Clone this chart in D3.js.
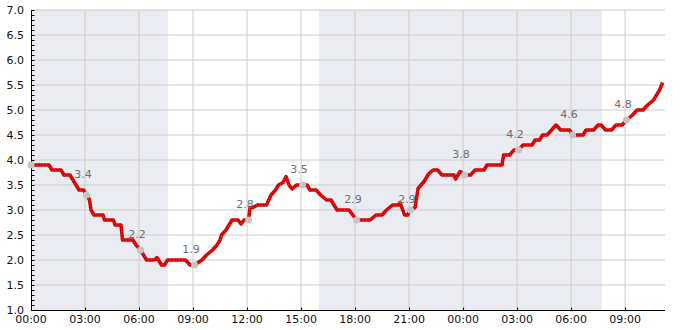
<!DOCTYPE html>
<html>
<head>
<meta charset="utf-8">
<script src="https://cdn.jsdelivr.net/npm/d3@7"></script>
<style>
  body { margin: 0; background: #fff; }
  svg { display: block; font-family: "DejaVu Sans", sans-serif; }
</style>
</head>
<body>
<script>
// readings, day 1 then day 2 (prefix "2 ")
var times = [
  "1 00:00","1 01:00","1 01:10","1 01:40","1 01:50","1 02:10","1 02:30","1 02:40","1 02:55","1 03:05",
  "1 03:15","1 03:20","1 03:30","1 04:00","1 04:05","1 04:35","1 04:40","1 05:00","1 05:05","1 05:40",
  "1 05:50","1 06:05","1 06:15","1 06:25","1 06:50","1 07:00","1 07:15","1 07:25","1 07:35","1 08:35",
  "1 08:50","1 09:05","1 09:30","1 09:45","1 10:05","1 10:20","1 10:30","1 10:35","1 10:50","1 11:10",
  "1 11:30","1 11:40","1 11:50","1 12:05","1 12:10","1 12:20","1 12:35","1 13:05","1 13:20","1 13:35",
  "1 13:45","1 14:00","1 14:10","1 14:20","1 14:30","1 14:45","1 15:20","1 15:30","1 15:50","1 16:05",
  "1 16:25","1 16:40","1 17:00","1 17:40","1 18:05","1 18:50","1 19:10","1 19:30","1 19:45","1 20:05",
  "1 20:25","1 20:30","1 20:45","1 20:55","1 21:05","1 21:20","1 21:30","1 21:50","1 22:05","1 22:20",
  "1 22:35","1 22:50","1 23:30","1 23:35","1 23:50",
  "2 00:05","2 00:25","2 00:40","2 01:10","2 01:20","2 02:10","2 02:15","2 02:35","2 02:50","2 03:05",
  "2 03:20","2 03:50","2 04:00","2 04:15","2 04:25","2 04:40","2 04:55","2 05:10","2 05:25","2 05:55",
  "2 06:05","2 06:40","2 06:50","2 07:15","2 07:30","2 07:40","2 07:55","2 08:15","2 08:30","2 08:50",
  "2 09:05","2 09:25","2 09:40","2 10:00","2 10:15","2 10:35","2 10:45","2 10:55","2 11:05"
]
var values = [
  3.9,3.9,3.8,3.8,3.7,3.7,3.5,3.4,3.4,3.3,
  3.2,3.0,2.9,2.9,2.8,2.8,2.7,2.7,2.4,2.4,
  2.3,2.2,2.1,2.0,2.0,2.05,1.9,1.9,2.0,2.0,
  1.9,1.9,2.0,2.1,2.2,2.3,2.4,2.5,2.6,2.8,
  2.8,2.72,2.8,2.8,3.05,3.05,3.1,3.1,3.3,3.4,
  3.5,3.55,3.67,3.5,3.42,3.5,3.5,3.4,3.4,3.3,
  3.2,3.2,3.0,3.0,2.8,2.8,2.9,2.9,3.0,3.1,
  3.1,3.15,2.9,2.9,3.0,3.05,3.43,3.57,3.72,3.8,
  3.8,3.7,3.7,3.62,3.77,
  3.7,3.7,3.8,3.8,3.9,3.9,4.1,4.1,4.2,4.2,
  4.3,4.3,4.4,4.4,4.5,4.5,4.6,4.7,4.6,4.6,
  4.5,4.5,4.6,4.6,4.7,4.7,4.6,4.6,4.7,4.7,
  4.8,4.9,5.0,5.0,5.1,5.2,5.3,5.4,5.55
]

// grey markers every 3 hours, with their labels
var markTimes = ["1 00:00","1 03:05","1 06:05","1 09:05","1 12:05","1 15:05","1 18:05","1 21:05","2 00:05","2 03:05","2 06:05","2 09:05"]
var markValues = [3.9,3.3,2.2,1.9,2.8,3.5,2.8,3.0,3.7,4.2,4.5,4.8]
var labelTimes = ["1 03:00","1 06:00","1 09:00","1 12:00","1 15:00","1 18:00","1 21:00","2 00:00","2 03:00","2 06:00","2 09:00"]
var labelTexts = ["3.4","2.2","1.9","2.8","3.5","2.9","2.9","3.8","4.2","4.6","4.8"]

// shaded night bands
var bandStarts = ["1 00:00","1 16:00"]
var bandEnds = ["1 07:36","2 07:43"]

var domainStart = "1 00:00", domainEnd = "2 11:13"
var yTicks = [1.0,1.5,2.0,2.5,3.0,3.5,4.0,4.5,5.0,5.5,6.0,6.5,7.0]

var parse = d3.timeParse("%d %H:%M")

var W = 685, H = 330
var margin = {top: 10, right: 20, bottom: 20, left: 31}

var svg = d3.select("body").append("svg")
    .attr("width", W)
    .attr("height", H)

var x = d3.scaleTime()
    .domain([parse(domainStart), parse(domainEnd)])
    .range([margin.left, W - margin.right])
var y = d3.scaleLinear()
    .domain([1, 7])
    .range([H - margin.bottom, margin.top])

// bands
svg.append("g").selectAll("rect")
  .data(bandStarts)
  .enter().append("rect")
    .attr("x", (d) => x(parse(d)))
    .attr("y", y(7))
    .attr("width", (d, i) => x(parse(bandEnds[i])) - x(parse(d)))
    .attr("height", y(1) - y(7))
    .style("fill", "#ebecf1")

// grid
var xTicks = x.ticks(d3.timeHour.every(3))
svg.append("g").selectAll("line")
  .data(xTicks.filter((d, i) => i > 0))
  .enter().append("line")
    .attr("x1", (d) => x(d)).attr("x2", (d) => x(d))
    .attr("y1", y(7)).attr("y2", y(1))
    .style("stroke", "#cccccc")
svg.append("g").selectAll("line")
  .data(yTicks.filter((d) => d > 1))
  .enter().append("line")
    .attr("x1", x.range()[0]).attr("x2", x.range()[1])
    .attr("y1", (d) => y(d)).attr("y2", (d) => y(d))
    .style("stroke", "#cccccc")

// y axis with minor ticks
var yAxis = svg.append("g")
    .attr("transform", "translate(" + margin.left + ",0)")
    .call(d3.axisRight(y).ticks(60).tickSize(3).tickFormat(""))
yAxis.select(".domain").attr("d", "M0.5," + y(7) + "V" + y(1))
yAxis.selectAll("line").attr("transform", "translate(0.5,0)")
svg.append("g").selectAll("text")
  .data(yTicks)
  .enter().append("text")
    .attr("x", 24)
    .attr("y", (d) => y(d))
    .attr("dy", "0.35em")
    .attr("text-anchor", "end")
    .attr("font-size", "11px")
    .attr("fill", "#111")
    .text((d) => d.toFixed(1))

// x axis
var xAxis = svg.append("g")
    .attr("transform", "translate(0," + y(1) + ")")
    .call(d3.axisTop(x).ticks(d3.timeHour.every(3)).tickSize(3).tickFormat(""))
xAxis.select(".domain").attr("d", "M" + x.range()[0] + ",0.5H" + x.range()[1])
xAxis.selectAll("line").attr("transform", "translate(0,0.5)")
svg.append("g").selectAll("text")
  .data(xTicks)
  .enter().append("text")
    .attr("x", (d) => x(d))
    .attr("y", y(1) + 13)
    .attr("text-anchor", "middle")
    .attr("font-size", "11px")
    .attr("fill", "#111")
    .text(d3.timeFormat("%H:%M"))

// the line
var pts = times.map((t, i) => [parse(t), values[i]])
var line = d3.line().x((d) => x(d[0])).y((d) => y(d[1]))
svg.append("path")
    .datum(pts)
    .attr("d", line)
    .style("fill", "none")
    .style("stroke", "#d40000")
    .style("stroke-width", 3.5)
    .style("stroke-linejoin", "round")
svg.append("path")
    .datum(pts)
    .attr("d", line)
    .style("fill", "none")
    .style("stroke", "#ee4a4a")
    .style("stroke-width", 1)
    .style("stroke-dasharray", "1,2")

// grey markers
svg.append("g").selectAll("circle")
  .data(markTimes)
  .enter().append("circle")
    .attr("cx", (d) => x(parse(d)))
    .attr("cy", (d, i) => y(markValues[i]))
    .attr("r", 3.5)
    .style("fill", "#c4c4c4")

svg.append("g").selectAll("text")
  .data(labelTimes)
  .enter().append("text")
    .attr("x", (d) => x(parse(d)) - 2)
    .attr("y", (d, i) => y(+labelTexts[i]) - 12)
    .attr("text-anchor", "middle")
    .attr("font-size", "11px")
    .attr("fill", "#6f6f6f")
    .text((d, i) => labelTexts[i])
</script>
</body>
</html>
